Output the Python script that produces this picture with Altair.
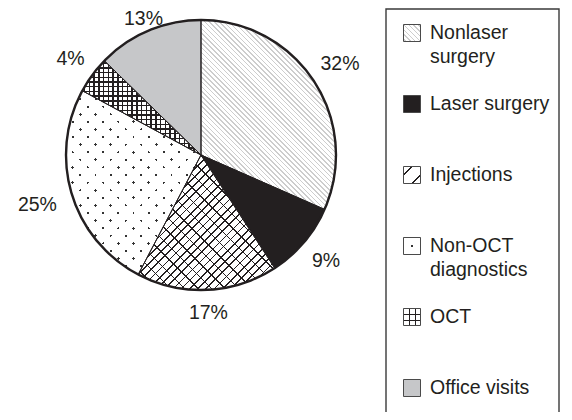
import math
import altair as alt
import pandas as pd

# ---------------- data ----------------
categories = ["Nonlaser surgery", "Laser surgery", "Injections",
              "Non-OCT diagnostics", "OCT", "Office visits"]
shares = [31.6, 9.2, 16.9, 25.2, 4.4, 12.7]          # slice sizes (estimated from angles)
pct_labels = ["32%", "9%", "17%", "25%", "4%", "13%"]  # printed labels
legend_line1 = ["Nonlaser", "Laser surgery", "Injections", "Non-OCT", "OCT", "Office visits"]
legend_line2 = ["surgery", "", "", "diagnostics", "", ""]

df = pd.DataFrame({
    "category": categories,
    "value": shares,
    "pct": pct_labels,
    "line1": legend_line1,
    "line2": legend_line2,
    "order": list(range(len(categories))),
})

# ---------------- layout / style ----------------
W, H = 556, 404
CX, CY, R = 193, 147, 135
INK = "#231f20"
FONT = "Liberation Sans"
FS = 19.5
TOTAL = sum(shares)
LABEL_R = [166, 164, 158, 171, 162, 148]
LEG_X_SYM, LEG_X_TXT = 404, 422
SYM = 17
theta_scale = alt.Scale(domain=[0, TOTAL], range=[0, 2 * math.pi])
y_leg = alt.Y("category:N", axis=None,
              scale=alt.Scale(type="point", domain=categories, range=[25, 380], padding=0))


def slice_bbox(i):
    a0 = sum(shares[:i]) / TOTAL * 360
    a1 = a0 + shares[i] / TOTAL * 360
    angs = [a0, a1] + [a for a in (0, 90, 180, 270, 360) if a0 < a < a1]
    xs = [0.0] + [R * math.sin(math.radians(a)) for a in angs]
    ys = [0.0] + [-R * math.cos(math.radians(a)) for a in angs]
    return max(xs) - min(xs), max(ys) - min(ys)


def stripes(w, h, period, width, line, bg, kind, phase=0.5):
    if kind in ("/", "\\"):
        span = (w + h) / math.sqrt(2)
        k = (w + h) / (w * w + h * h)
        if kind == "/":
            x1, y1, x2, y2 = 0, 0, k * w, k * h
        else:
            x1, y1, x2, y2 = 0, 1, k * w, 1 - k * h
    elif kind == "|":
        span = w
        x1, y1, x2, y2 = 0, 0, 1, 0
    else:
        span = h
        x1, y1, x2, y2 = 0, 0, 0, 1
    n = max(1, round(span / period))
    f = width / (span / n)
    raw = []
    for j in range(n):
        a = (j + phase - f / 2) / n
        b = (j + phase + f / 2) / n
        raw += [(j / n, bg), (a, bg), (a, line), (b, line), (b, bg), ((j + 1) / n, bg)]
    stops, last = [], 0.0
    for off, c in raw:
        off = max(last, min(1.0, max(0.0, off)))
        last = off
        stops.append({"offset": round(off, 5), "color": c})
    return {"gradient": "linear", "x1": x1, "y1": y1, "x2": x2, "y2": y2, "stops": stops}


T = "transparent"


def fills_for(i, w, h, legend=False):
    """list of fills (bottom to top) for category i"""
    if i == 0:
        return [stripes(w, h, 3.4, 1.1, "#cdcdcd", "white", "\\")]
    if i == 1:
        return [INK]
    if i == 2:
        if legend:
            return [stripes(w, h, 12, 1.3, INK, "white", "/")]
        return [stripes(w, h, 5.8, 1.2, INK, "white", "/"),
                stripes(w, h, 9.5, 1.0, INK, T, "\\")]
    if i == 3:
        p = 24 if legend else 10.6
        return ["#333333",
                stripes(w, h, p, 2.0, T, "white", "/"),
                stripes(w, h, p, 2.0, T, "white", "\\")]
    if i == 4:
        p = SYM / 3 if legend else 4.7
        ph = 0.0 if legend else 0.5
        return [stripes(w, h, p, 1.4, INK, "white", "|", ph),
                stripes(w, h, p, 1.4, INK, T, "-", ph)]
    return ["#c6c7c9"]


base = (alt.Chart(df)
        .transform_window(cum="sum(value)", sort=[alt.SortField("order")])
        .transform_calculate(start="datum.cum - datum.value",
                             mid="datum.cum - datum.value / 2"))

enc_arc = dict(theta=alt.Theta("start:Q", scale=theta_scale), theta2="cum:Q",
               x=alt.value(CX), y=alt.value(CY))

layers = []
# pie slices with patterns
for i, cat in enumerate(categories):
    w, h = slice_bbox(i)
    for fill in fills_for(i, w, h):
        layers.append(base.transform_filter(alt.datum.category == cat)
                      .mark_arc(radius=R, fill=fill, strokeWidth=0)
                      .encode(**enc_arc))

# slice separators
layers.append(base.mark_arc(radius=R, fill=T, stroke=INK, strokeWidth=1)
              .encode(**enc_arc))

# outer circle
layers.append(alt.Chart(df)
              .transform_aggregate(total="sum(value)")
              .transform_calculate(zero="0")
              .mark_arc(radius=R, fill=T, stroke=INK, strokeWidth=2.4)
              .encode(theta=alt.Theta("zero:Q", scale=theta_scale), theta2="total:Q",
                      x=alt.value(CX), y=alt.value(CY)))

# percentage labels
for i, cat in enumerate(categories):
    layers.append(base.transform_filter(alt.datum.category == cat)
                  .mark_text(radius=LABEL_R[i], fontSize=FS, font=FONT, color=INK,
                             align="center", baseline="middle")
                  .encode(theta=alt.Theta("mid:Q", scale=theta_scale), text="pct:N",
                          x=alt.value(CX), y=alt.value(CY)))

# legend frame
layers.append(alt.Chart(pd.DataFrame({"k": [0]}))
              .mark_rect(fill=T, stroke="#3a3a3a", strokeWidth=1.4)
              .encode(x=alt.value(378), x2=alt.value(551), y=alt.value(1), y2=alt.value(430)))

# legend symbols
for i, cat in enumerate(categories):
    fl = fills_for(i, SYM, SYM, legend=True)
    for j, fill in enumerate(fl):
        last = j == len(fl) - 1
        kw = dict(stroke="#4a4a4a", strokeWidth=1) if last else dict(strokeWidth=0)
        layers.append(alt.Chart(df).transform_filter(alt.datum.category == cat)
                      .mark_square(size=SYM * SYM, fill=fill, opacity=1, **kw)
                      .encode(x=alt.value(LEG_X_SYM), y=y_leg))

# legend texts
layers.append(alt.Chart(df).mark_text(align="left", baseline="middle", fontSize=FS,
                                      font=FONT, color=INK)
              .encode(x=alt.value(LEG_X_TXT), y=y_leg, text="line1:N"))
layers.append(alt.Chart(df).mark_text(align="left", baseline="middle", fontSize=FS,
                                      font=FONT, color=INK, dy=24)
              .encode(x=alt.value(LEG_X_TXT), y=y_leg, text="line2:N"))

chart = (alt.layer(*layers)
         .properties(width=W, height=H, padding=0,
                     autosize=alt.AutoSizeParams(type="none"))
         .configure_view(strokeWidth=0))

chart.save("out.html", embed_options={"renderer": "svg", "actions": False})
